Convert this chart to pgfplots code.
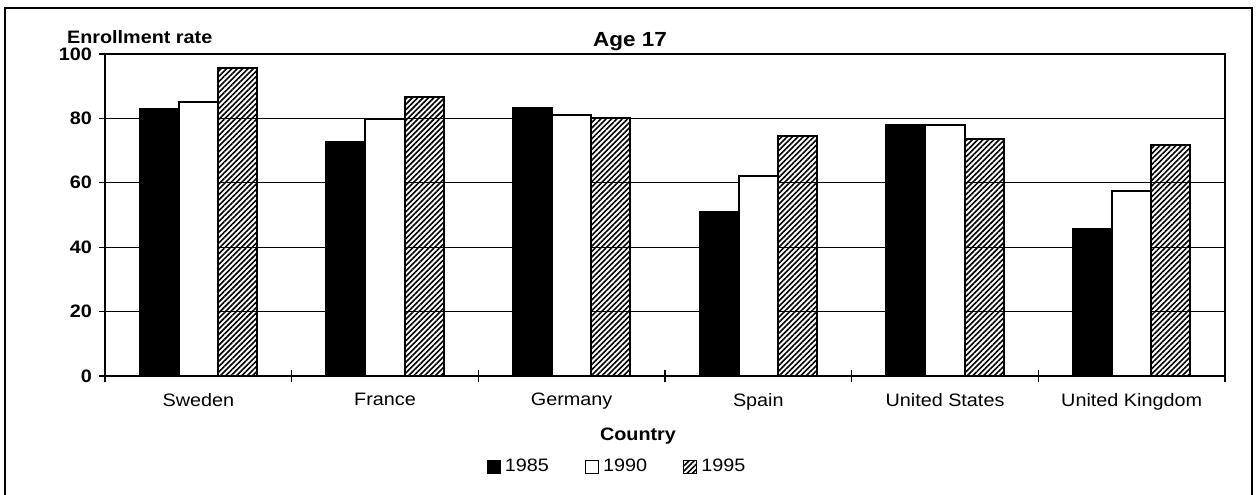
\documentclass[border=0pt]{standalone}
\usepackage{fontspec}
\setmainfont{Liberation Sans}[FakeStretch=1.1]
\usepackage{pgfplots}
\pgfplotsset{compat=1.18}
\usetikzlibrary{patterns.meta}
\newcommand{\fs}{\fontsize{9}{10}\selectfont}
\begin{document}
\begin{tikzpicture}[x=1pt,y=1pt]
\useasboundingbox (0,0) rectangle (628,247);
\draw[line width=0.9pt] (2.5,-2) -- (2.5,243) -- (626,243) -- (626,-2);
\begin{axis}[
  at={(52.5pt,59pt)}, anchor=south west,
  scale only axis, width=560pt, height=161pt,
  xmin=-0.5, xmax=5.5, ymin=0, ymax=100,
  ytick={0,20,40,60,80,100},
  ymajorgrids, grid style={black, line width=0.5pt},
  xtick={0,1,2,3,4,5},
  xticklabels={Sweden,France,Germany,Spain,United States,United Kingdom},
  x tick label style={font=\fs, yshift=-2pt},
  y tick label style={font=\fs\bfseries},
  /pgf/number format/assume math mode=true,
  xtick style={draw=none},
  ytick style={black, line width=0.6pt},
  xtick pos=bottom, ytick pos=left,
  tick align=outside, major tick length=3pt,
  extra x ticks={-0.5,0.5,1.5,2.5,3.5,4.5,5.5},
  extra x tick labels={},
  extra x tick style={grid=none, tick align=center, major tick length=6pt,
     xtick pos=bottom, xtick style={draw=black, line width=0.6pt}},
  axis line style={line width=0.7pt},
  every outer x axis line/.append style={line width=1.2pt},
  ybar=0pt, bar width=0.21,
  legend columns=3,
  legend style={at={(0.458,-0.283)}, anchor=center, draw=none, font=\fs,
     /tikz/every even column/.append style={column sep=16pt}},
  legend image code/.code={\draw[#1,line width=0.6pt] (0pt,-3.25pt) rectangle (6.5pt,3.25pt);},
]
\addplot[bar shift=-0.21, fill=black, draw=black, line width=1pt] coordinates
  {(0,82.8) (1,72.6) (2,83.1) (3,50.9) (4,78.1) (5,45.6)};
\addplot[bar shift=0, fill=white, draw=black, line width=1pt] coordinates
  {(0,85.0) (1,79.7) (2,81.2) (3,62.0) (4,78.1) (5,57.4)};
\addplot[bar shift=0.21, fill=white, draw=black, line width=1pt,
  pattern={Lines[angle=45,distance=1.9pt,line width=0.8pt]}] coordinates
  {(0,95.8) (1,86.5) (2,80.0) (3,74.4) (4,73.5) (5,71.6)};
\legend{1985,1990,1995}
\end{axis}
\node[anchor=base west, font=\fs\bfseries] at (30,225.5) {Enrollment rate};
\node[anchor=base, font=\fontsize{10.2}{12}\selectfont\bfseries] at (315,223.5) {Age 17};
\node[anchor=center, font=\fs\bfseries] at (319,29) {Country};
\end{tikzpicture}
\end{document}
